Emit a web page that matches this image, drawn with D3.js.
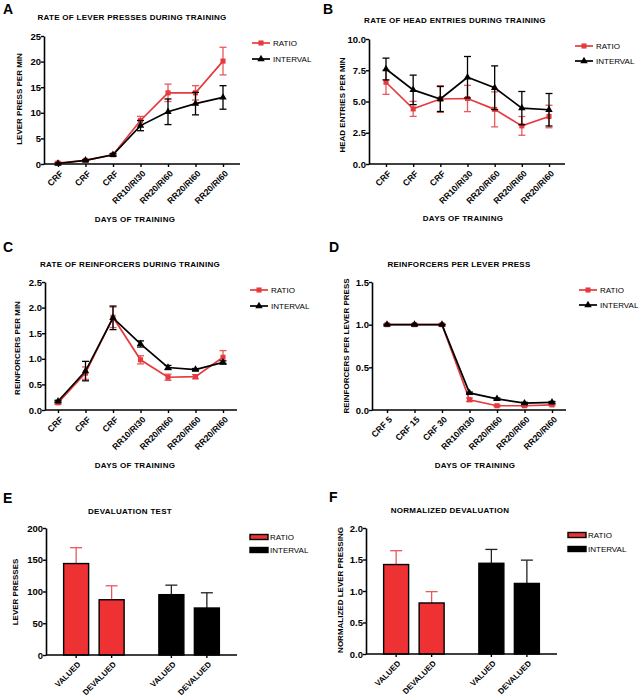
<!DOCTYPE html>
<html><head><meta charset="utf-8">
<script src="https://cdn.jsdelivr.net/npm/d3@7"></script>
<style>body{margin:0;background:#fff} svg{display:block} text{font-family:"Liberation Sans",Arial,sans-serif}</style>
</head><body><svg id="c" width="640" height="699"></svg>
<script>
// ---------- DATA ----------
const trainingDays = ["CRF","CRF","CRF","RR10/RI30","RR20/RI60","RR20/RI60","RR20/RI60"];
const trainingDaysD = ["CRF 5","CRF 15","CRF 30","RR10/RI30","RR20/RI60","RR20/RI60","RR20/RI60"];
const seriesNames = ["RATIO","INTERVAL"];
const testConditions = ["VALUED","DEVALUED"];

const leverRatio = [0.2,0.7,1.8,8.5,13.9,13.9,20.1];
const leverRatioErr = [0.2,0.2,0.2,0.8,1.7,1.4,2.7];
const leverInterval = [0.1,0.7,1.8,7.5,10.2,11.8,13.0];
const leverIntervalErr = [0.1,0.1,0.2,1.0,2.5,2.2,2.3];
const leverTicks = [0,5,10,15,20,25];

const headRatio = [6.54,4.41,5.2,5.24,4.37,3.05,3.8];
const headRatioErr = [0.97,0.6,1.07,1.05,1.4,0.75,0.9];
const headInterval = [7.6,5.93,5.2,6.94,6.1,4.47,4.34];
const headIntervalErr = [0.87,1.18,1.0,1.66,1.75,1.33,1.3];
const headTicks = [0,2.5,5,7.5,10];

const reinfRatio = [0.14,0.72,1.81,0.98,0.64,0.65,1.03];
const reinfRatioErr = [0.03,0.12,0.2,0.08,0.06,0.04,0.13];
const reinfInterval = [0.17,0.76,1.8,1.29,0.83,0.79,0.93];
const reinfIntervalErr = [0.02,0.19,0.23,0.06,0.04,0.02,0.03];
const reinfTicks = [0,0.5,1,1.5,2,2.5];

const perPressRatio = [1,1,1,0.12,0.05,0.05,0.06];
const perPressRatioErr = [0.005,0.005,0.005,0.02,0.01,0.01,0.01];
const perPressInterval = [1,1,1,0.2,0.13,0.08,0.09];
const perPressIntervalErr = [0.005,0.005,0.005,0.01,0.01,0.01,0.01];
const perPressTicks = [0,0.5,1,1.5];

const devalRatio = [144,87];
const devalRatioErr = [25,22];
const devalInterval = [95,74];
const devalIntervalErr = [15,24];
const devalTicks = [0,50,100,150,200];

const normRatio = [1.42,0.81];
const normRatioErr = [0.22,0.18];
const normInterval = [1.44,1.12];
const normIntervalErr = [0.22,0.37];
const normTicks = [0,0.5,1,1.5,2];

// ---------- STYLE ----------
const RED = "#e63a3e", RED_ERR = "#e8595c", BAR_RED = "#ee3234", BLACK = "#000";
const svg = d3.select("#c");

function letter(x, y, t){
  svg.append("text").attr("x",x).attr("y",y).attr("font-size",14).attr("font-weight","bold").text(t);
}
function title(x, y, t){
  svg.append("text").attr("x",x).attr("y",y).attr("text-anchor","middle")
    .attr("font-size",8).attr("letter-spacing",0.3).attr("font-weight","bold").text(t);
}
function yTitle(x, y, t){
  svg.append("text").attr("transform",`translate(${x},${y}) rotate(-90)`).attr("text-anchor","middle")
    .attr("font-size",8).attr("font-weight","bold").text(t);
}
function yAxis(g, y, ax, ticks, fmt){
  const a = g.append("g").attr("transform",`translate(${ax},0)`)
    .call(d3.axisLeft(y).tickValues(ticks).tickFormat(fmt).tickSize(3).tickSizeOuter(0));
  a.select(".domain").attr("stroke-width",1.6);
  a.selectAll(".tick line").attr("stroke-width",1.4);
  a.selectAll("text").attr("font-size",9.5).attr("font-weight","bold").attr("font-family","Liberation Sans, Arial").attr("x",-3);
}
function xAxis(g, x, ax, xEnd, yb, labels, fs){
  g.append("line").attr("x1",ax).attr("x2",xEnd).attr("y1",yb).attr("y2",yb).attr("stroke","#000").attr("stroke-width",1.6);
  const a = g.append("g").attr("transform",`translate(0,${yb})`)
    .call(d3.axisBottom(x).tickSize(3).tickSizeOuter(0).tickFormat(d => labels[d]));
  a.select(".domain").remove();
  a.selectAll(".tick line").attr("stroke-width",1.4);
  a.selectAll("text").attr("font-size",fs).attr("font-weight","bold").attr("font-family","Liberation Sans, Arial")
    .attr("text-anchor","end").attr("y",0).attr("dy","0.35em")
    .attr("transform","translate(3,8) rotate(-45)");
}

function linePanel(c){
  const g = svg.append("g");
  const n = c.labels.length;
  const x = d3.scalePoint().domain(d3.range(n)).range([c.xf, c.xl]);
  const y = d3.scaleLinear().domain([0, c.ymax]).range([c.yb, c.yt]);
  yAxis(g, y, c.ax, c.ticks, c.fmt);
  xAxis(g, x, c.ax, c.xEnd, c.yb, c.labels, 8.7);
  const series = [
    {v:c.ratio, e:c.ratioErr, col:RED, ecol:RED_ERR, sym:"square"},
    {v:c.interval, e:c.intervalErr, col:BLACK, ecol:BLACK, sym:"tri"}
  ];
  series.forEach(s => {
    const idx = d3.range(n);
    const eb = g.append("g").attr("stroke", s.ecol).attr("stroke-width",1.3);
    idx.forEach(i => {
      const cx = x(i), t = y(s.v[i]+s.e[i]), b = y(Math.max(0,s.v[i]-s.e[i]));
      eb.append("line").attr("x1",cx).attr("x2",cx).attr("y1",t).attr("y2",b);
      eb.append("line").attr("x1",cx-3.5).attr("x2",cx+3.5).attr("y1",t).attr("y2",t);
      eb.append("line").attr("x1",cx-3.5).attr("x2",cx+3.5).attr("y1",b).attr("y2",b);
    });
    g.append("path").datum(idx).attr("fill","none").attr("stroke",s.col).attr("stroke-width",1.7)
      .attr("d", d3.line().x(i=>x(i)).y(i=>y(s.v[i])));
    g.selectAll(null).data(idx).join("path")
      .attr("transform", i => `translate(${x(i)},${y(s.v[i])})`)
      .attr("fill", s.col)
      .attr("d", d3.symbol(s.sym==="square"? d3.symbolSquare : d3.symbolTriangle, s.sym==="square"? 26 : 24));
  });
  seriesNames.forEach((nm, k) => {
    const ly = c.ly[k], s = series[k];
    g.append("line").attr("x1",c.lx).attr("x2",c.lx+18).attr("y1",ly).attr("y2",ly).attr("stroke",s.col).attr("stroke-width",1.7);
    g.append("path").attr("transform",`translate(${c.lx+9},${ly})`).attr("fill",s.col)
      .attr("d", d3.symbol(k===0? d3.symbolSquare : d3.symbolTriangle, k===0? 26 : 24));
    g.append("text").attr("x",c.lx+21).attr("y",ly).attr("dy","0.35em").attr("font-size",8).text(nm);
  });
}

function barPanel(c){
  const g = svg.append("g");
  const groups = seriesNames;
  const outer = d3.scaleBand().domain(groups).range([c.ax, c.xEnd]).paddingInner(0.2546).paddingOuter(0.13);
  const inner = d3.scaleBand().domain(testConditions).range([0, outer.bandwidth()]).paddingInner(0.296).paddingOuter(0.148);
  const y = d3.scaleLinear().domain([0, c.ymax]).range([c.yb, c.yt]);
  yAxis(g, y, c.ax, c.ticks, c.fmt);
  const data = [];
  [[c.ratio,c.ratioErr,BAR_RED,RED_ERR],[c.interval,c.intervalErr,BLACK,"#222"]].forEach((s,gi) => {
    testConditions.forEach((cond,ci) => data.push({g:groups[gi], c:cond, v:s[0][ci], e:s[1][ci], fill:s[2], ecol:s[3]}));
  });
  data.forEach(d => {
    const cx = outer(d.g)+inner(d.c)+inner.bandwidth()/2;
    const t = y(d.v+d.e);
    g.append("line").attr("x1",cx).attr("x2",cx).attr("y1",t).attr("y2",y(d.v)).attr("stroke",d.ecol).attr("stroke-width",1.3);
    g.append("line").attr("x1",cx-6).attr("x2",cx+6).attr("y1",t).attr("y2",t).attr("stroke",d.ecol).attr("stroke-width",1.3);
  });
  g.selectAll(null).data(data).join("rect")
    .attr("x", d => outer(d.g)+inner(d.c)).attr("width", inner.bandwidth())
    .attr("y", d => y(d.v)).attr("height", d => c.yb - y(d.v))
    .attr("fill", d => d.fill).attr("stroke","#000").attr("stroke-width",1.4);
  g.append("line").attr("x1",c.ax).attr("x2",c.xEnd).attr("y1",c.yb).attr("y2",c.yb).attr("stroke","#000").attr("stroke-width",1.6);
  data.forEach(d => {
    const cx = outer(d.g)+inner(d.c)+inner.bandwidth()/2;
    g.append("line").attr("x1",cx).attr("x2",cx).attr("y1",c.yb).attr("y2",c.yb+3).attr("stroke","#000").attr("stroke-width",1.4);
    g.append("text").attr("transform",`translate(${cx+3},${c.yb+8}) rotate(-45)`).attr("text-anchor","end").attr("dy","0.35em")
      .attr("font-size",8).attr("font-weight","bold").text(d.c);
  });
  seriesNames.forEach((nm,k) => {
    const ly = c.ly[k];
    g.append("rect").attr("x",c.lx).attr("y",ly-2.5).attr("width",18).attr("height",5)
      .attr("fill", k===0? BAR_RED : BLACK).attr("stroke","#000").attr("stroke-width",1.4);
    g.append("text").attr("x",c.lx+20).attr("y",ly).attr("dy","0.35em").attr("font-size",8).text(nm);
  });
}

const f1 = d3.format(".1f"), f0 = d3.format("d");

// Panel A
letter(3,14,"A");
title(132,20,"RATE OF LEVER PRESSES DURING TRAINING");
linePanel({labels:trainingDays, ratio:leverRatio, ratioErr:leverRatioErr, interval:leverInterval, intervalErr:leverIntervalErr,
  ymax:25, ticks:leverTicks, fmt:f0, ax:44, xf:58, xl:223, xEnd:240, yb:164, yt:36, lx:252, ly:[43,59]});
title(135,222,"DAYS OF TRAINING");
yTitle(22,99,"LEVER PRESS PER MIN");

// Panel B
letter(323,14,"B");
title(455,23,"RATE OF HEAD ENTRIES DURING TRAINING");
linePanel({labels:trainingDays, ratio:headRatio, ratioErr:headRatioErr, interval:headInterval, intervalErr:headIntervalErr,
  ymax:10, ticks:headTicks, fmt:f1, ax:369, xf:386, xl:549, xEnd:565, yb:164, yt:39, lx:575, ly:[46,61]});
title(463,221,"DAYS OF TRAINING");
yTitle(345,105,"HEAD ENTRIES PER MIN");

// Panel C
letter(3,252,"C");
title(130,267,"RATE OF REINFORCERS DURING TRAINING");
linePanel({labels:trainingDays, ratio:reinfRatio, ratioErr:reinfRatioErr, interval:reinfInterval, intervalErr:reinfIntervalErr,
  ymax:2.5, ticks:reinfTicks, fmt:f1, ax:45, xf:58, xl:223, xEnd:237, yb:410, yt:282, lx:250, ly:[290,306]});
title(135,468,"DAYS OF TRAINING");
yTitle(20,348,"REINFORCERS PER MIN");

// Panel D
letter(329,252,"D");
title(459,267,"REINFORCERS PER LEVER PRESS");
linePanel({labels:trainingDaysD, ratio:perPressRatio, ratioErr:perPressRatioErr, interval:perPressInterval, intervalErr:perPressIntervalErr,
  ymax:1.5, ticks:perPressTicks, fmt:f1, ax:372, xf:387, xl:552, xEnd:566, yb:410, yt:282, lx:579, ly:[290,305]});
title(475,468,"DAYS OF TRAINING");
yTitle(349,346,"REINFORCERS PER LEVER PRESS");

// Panel E
letter(3,503,"E");
title(130,514,"DEVALUATION TEST");
barPanel({ratio:devalRatio, ratioErr:devalRatioErr, interval:devalInterval, intervalErr:devalIntervalErr,
  ymax:200, ticks:devalTicks, fmt:f0, ax:46, xEnd:237, yb:655, yt:528, lx:250, ly:[537,550]});
yTitle(18,592,"LEVER PRESSES");

// Panel F
letter(329,502,"F");
title(450,513,"NORMALIZED DEVALUATION");
barPanel({ratio:normRatio, ratioErr:normRatioErr, interval:normInterval, intervalErr:normIntervalErr,
  ymax:2, ticks:normTicks, fmt:f1, ax:366, xEnd:557, yb:654, yt:528, lx:568, ly:[535,549]});
yTitle(343,590,"NORMALIZED LEVER PRESSING");
</script></body></html>
